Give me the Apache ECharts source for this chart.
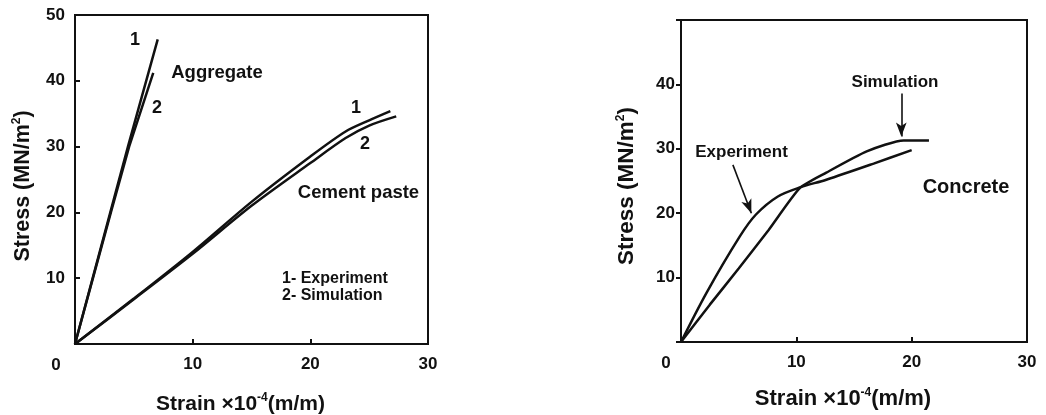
<!DOCTYPE html>
<html>
<head>
<meta charset="utf-8">
<script src="https://cdn.jsdelivr.net/npm/echarts@6/dist/echarts.min.js"></script>
<style>
  html, body { margin: 0; padding: 0; background: #fff; }
  #chart { width: 1046px; height: 415px; }
</style>
</head>
<body>
<div id="chart"></div>
<script>
// 左: 骨材とセメントペースト (1 = 実験, 2 = シミュレーション)
var aggExp = [[0, 0], [3.0, 20], [4.5, 30], [7.03, 46.3]];
var aggSim = [[0, 0], [3.05, 20], [4.6, 30], [6.65, 41.2]];
var pasteExp = [[0, 0], [5, 6.9], [10, 14.0], [15, 21.6], [20, 28.5], [23, 32.3], [25, 34.0], [26.8, 35.4]];
var pasteSim = [[0, 0], [5, 6.8], [10, 13.7], [15, 21.0], [20, 27.5], [23, 31.3], [25, 33.2], [27.3, 34.6]];

// 右: コンクリート
var concExp = [[0, 0], [2.2, 7.6], [5.1, 16.4], [6.5, 19.8], [8.4, 22.6], [10.3, 24.0], [12.6, 25.2], [16.7, 27.7], [20.0, 29.8]];
var concSim = [[0, 0], [2.5, 5.8], [5.0, 11.4], [7.6, 17.4], [10.3, 23.9], [12.6, 26.3], [16.1, 29.6], [19.3, 31.3], [21.5, 31.3]];

// 矢印 (データ座標)
var simArrow = [[19.1, 38.6], [19.1, 31.9]];
var expArrow = [[4.5, 27.5], [6.1, 20.0]];

var xTicks = [10, 20, 30];
var leftYTicks = [10, 20, 30, 40, 50];
var rightYTicks = [10, 20, 30, 40];

var FONT = "'Liberation Sans', Arial, sans-serif";
var INK = '#111';

var chart = echarts.init(document.getElementById('chart'));

function txt(x, y, s, size, align) {
    return {
        type: 'text', x: x, y: y,
        style: {
            text: s, fill: INK, font: 'bold ' + size + 'px ' + FONT,
            align: align || 'center', verticalAlign: 'middle'
        }
    };
}

// 縦軸タイトル (回転テキスト)
function yTitle(x, y, size) {
    return {
        type: 'text', x: x, y: y, rotation: Math.PI / 2,
        style: {
            text: 'Stress (MN/m{sup|2})', fill: INK, font: 'bold ' + size + 'px ' + FONT,
            align: 'center', verticalAlign: 'middle',
            rich: { sup: { fontSize: 12, fontWeight: 'bold', fontFamily: FONT, fill: INK, verticalAlign: 'top', lineHeight: 24 } }
        }
    };
}

var nameRich = {
    sup: { fontSize: 12, fontWeight: 'bold', fontFamily: FONT, color: INK, verticalAlign: 'top', lineHeight: 24 }
};

function xAxisOpt(gi, ticksInside, gap, size) {
    return {
        type: 'value', gridIndex: gi, min: 0, max: 30, interval: 10,
        name: 'Strain ×10{sup|-4}(m/m)', nameLocation: 'middle', nameGap: gap, nameMoveOverlap: false,
        nameTextStyle: { fontSize: size, fontWeight: 'bold', fontFamily: FONT, color: INK, padding: [0, 22, 0, 0], rich: nameRich },
        axisLine: { show: true, lineStyle: { color: INK, width: 2 } },
        axisTick: { show: true, inside: ticksInside, length: 5, lineStyle: { color: INK, width: 2 } },
        axisLabel: {
            margin: 12, fontSize: 17, fontWeight: 'bold', fontFamily: FONT, color: INK,
            formatter: function (v) { return xTicks.indexOf(v) >= 0 ? String(v) : ''; }
        },
        splitLine: { show: false }
    };
}

function yAxisOpt(gi, ticksInside, labels, margin) {
    return {
        type: 'value', gridIndex: gi, min: 0, max: 50, interval: 10,
        axisLine: { show: true, lineStyle: { color: INK, width: 2 } },
        axisTick: { show: true, inside: ticksInside, length: 5, lineStyle: { color: INK, width: 2 } },
        axisLabel: {
            margin: margin, fontSize: 17, fontWeight: 'bold', fontFamily: FONT, color: INK,
            formatter: function (v) { return labels.indexOf(v) >= 0 ? String(v) : ''; }
        },
        splitLine: { show: false }
    };
}

function curve(xi, data, smooth) {
    return {
        type: 'line', xAxisIndex: xi, yAxisIndex: xi, data: data,
        showSymbol: false, smooth: smooth, silent: true,
        lineStyle: { color: INK, width: 2.5 }
    };
}

function arrow(pts) {
    return {
        silent: true, symbol: ['none', 'arrow'], symbolSize: [8, 14],
        label: { show: false },
        lineStyle: { color: INK, width: 1.6, type: 'solid' },
        data: [[{ coord: pts[0] }, { coord: pts[1] }]]
    };
}

var concExpSeries = curve(1, concExp, 0.3);
concExpSeries.markLine = arrow(expArrow);
var concSimSeries = curve(1, concSim, 0.2);
concSimSeries.markLine = arrow(simArrow);

chart.setOption({
    backgroundColor: '#fff',
    animation: false,
    grid: [
        { left: 75, top: 15, width: 353, height: 329, outerBoundsMode: 'none', containLabel: false, show: true, borderColor: INK, borderWidth: 2, backgroundColor: 'transparent' },
        { left: 681, top: 20, width: 346, height: 322, outerBoundsMode: 'none', containLabel: false, show: true, borderColor: INK, borderWidth: 2, backgroundColor: 'transparent' }
    ],
    xAxis: [xAxisOpt(0, true, 48, 21), xAxisOpt(1, true, 45, 22)],
    yAxis: [yAxisOpt(0, true, leftYTicks, 10), yAxisOpt(1, false, rightYTicks, 6)],
    series: [
        curve(0, aggExp, false),
        curve(0, aggSim, false),
        curve(0, pasteExp, 0.3),
        curve(0, pasteSim, 0.3),
        concExpSeries,
        concSimSeries
    ],
    graphic: [
        yTitle(23, 186, 21.5),
        yTitle(627, 186, 22.5),
        txt(56, 365, '0', 17),
        txt(666, 363, '0', 17),
        txt(135, 40, '1', 18),
        txt(157, 108, '2', 18),
        txt(217, 73, 'Aggregate', 18.5),
        txt(356, 108, '1', 18),
        txt(365, 144, '2', 18),
        txt(358.5, 193, 'Cement paste', 18.5),
        txt(282, 279, '1- Experiment', 16, 'left'),
        txt(282, 296, '2- Simulation', 16, 'left'),
        txt(895, 82, 'Simulation', 17),
        txt(741.5, 152, 'Experiment', 17),
        txt(966, 187, 'Concrete', 20)
    ]
});
</script>
</body>
</html>
